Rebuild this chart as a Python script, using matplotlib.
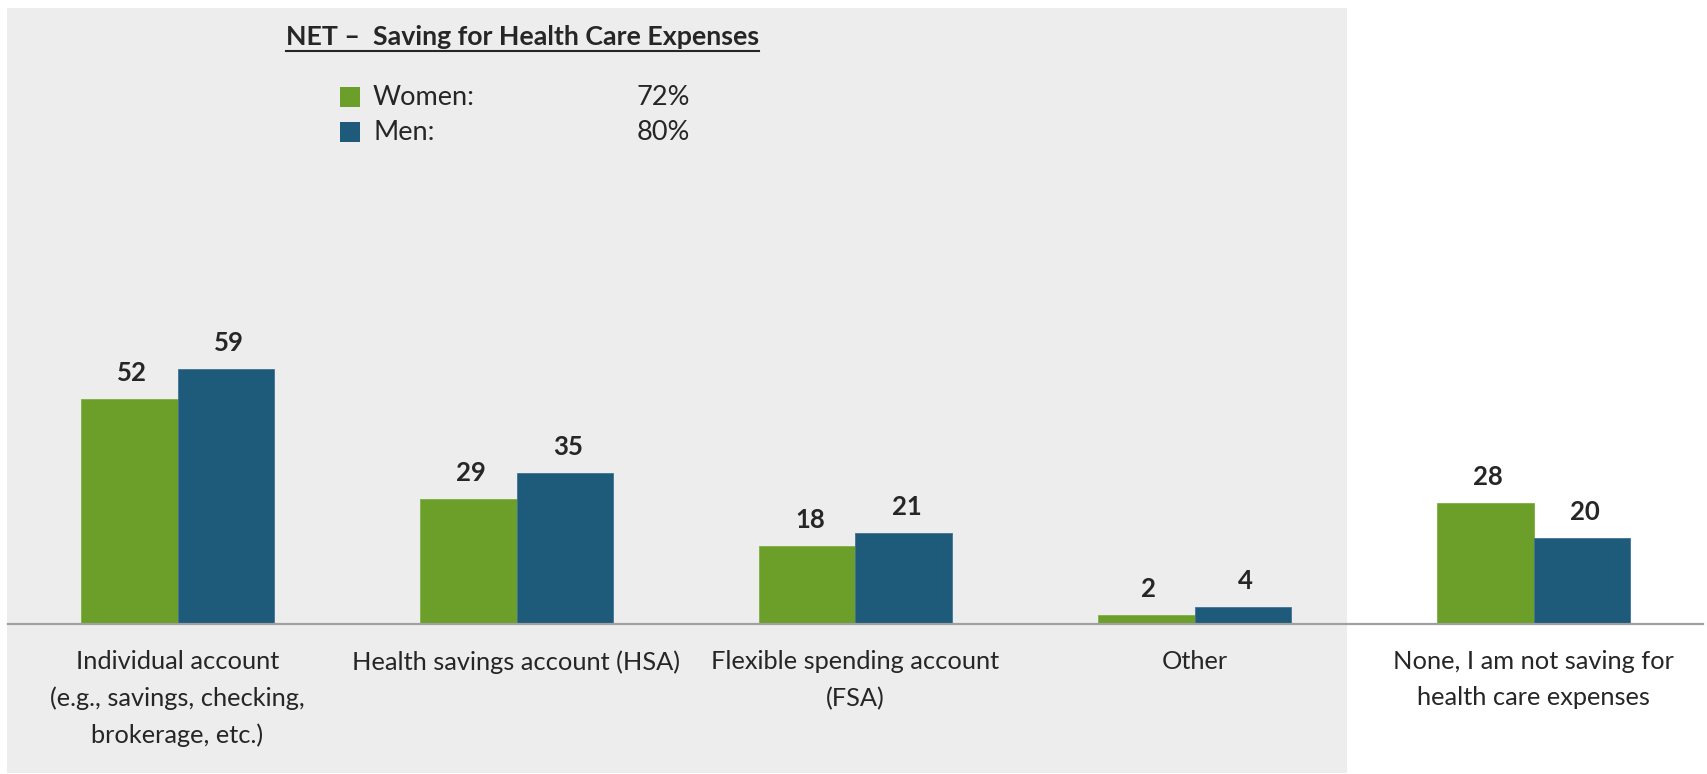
import matplotlib
matplotlib.use("Agg")
import matplotlib.pyplot as plt
from matplotlib.patches import Rectangle
from matplotlib.lines import Line2D
import numpy as np

# ---- data ----
categories = [
    "Individual account\n(e.g., savings, checking,\nbrokerage, etc.)",
    "Health savings account (HSA)",
    "Flexible spending account\n(FSA)",
    "Other",
    "None, I am not saving for\nhealth care expenses",
]
women = [52, 29, 18, 2, 28]
men = [59, 35, 21, 4, 20]
series_names = ["Women:", "Men:"]
net_values = ["72%", "80%"]
title = "NET \u2013  Saving for Health Care Expenses"

GREEN = "#6B9F29"
BLUE = "#1E5A7A"
GRAY_BG = "#EDEDED"
TEXT = "#262626"
FONT = ["Lato", "DejaVu Sans"]

W, H = 1707, 774
fig = plt.figure(figsize=(W / 100, H / 100), dpi=100)
fig.patch.set_facecolor("white")

def fx(px):
    return px / W

def fy(py):
    return 1 - py / H

# gray panel behind first four categories
fig.add_artist(Rectangle((fx(7), fy(773)), fx(1347) - fx(7), fy(8) - fy(773),
                         transform=fig.transFigure, facecolor=GRAY_BG,
                         edgecolor="none", zorder=0))

ax = fig.add_axes([fx(8), fy(624), fx(1703) - fx(8), fy(8) - fy(624)])
ax.set_facecolor("none")
ax.set_zorder(1)

x = np.arange(len(categories))
bw = 0.286
b1 = ax.bar(x - bw / 2, women, bw, color=GREEN, edgecolor="#7FAF45", linewidth=0.6)
b2 = ax.bar(x + bw / 2, men, bw, color=BLUE, edgecolor="#3F7494", linewidth=0.6)

for bars, vals in ((b1, women), (b2, men)):
    for rect, v in zip(bars, vals):
        ax.annotate(str(v), (rect.get_x() + rect.get_width() / 2, v),
                    xytext=(2, 10), textcoords="offset points",
                    ha="center", va="bottom", fontsize=18.5, fontweight="bold",
                    color=TEXT, family=FONT)

ax.set_xlim(-0.5, 4.5)
ax.set_ylim(0, 142.6)
for s in ("top", "right", "left"):
    ax.spines[s].set_visible(False)
ax.spines["bottom"].set_color("#A0A0A0")
ax.spines["bottom"].set_linewidth(1.6)
ax.set_yticks([])
ax.set_xticks(x)
ax.set_xticklabels(categories, fontsize=18.3, color=TEXT, family=FONT, linespacing=1.68)
ax.tick_params(axis="x", length=0, pad=19)

# title with underline
t = fig.text(fx(286), fy(45), title, fontsize=19.3, fontweight="bold",
             color=TEXT, family=FONT, ha="left", va="baseline")
fig.canvas.draw()
bb = t.get_window_extent()
fig.add_artist(Line2D([bb.x0 / W, bb.x1 / W], [fy(51), fy(51)],
                      transform=fig.transFigure, color=TEXT, linewidth=1.5))

# legend block
for i, (name, val, col) in enumerate(zip(series_names, net_values, (GREEN, BLUE))):
    top = 87 + 35 * i
    fig.add_artist(Rectangle((fx(340), fy(top + 20)), fx(360) - fx(340), fy(top) - fy(top + 20),
                             transform=fig.transFigure, facecolor=col, edgecolor="none"))
    fig.text(fx(373), fy(top + 18), name, fontsize=19.5, color=TEXT, family=FONT,
             ha="left", va="baseline")
    fig.text(fx(637), fy(top + 18), val, fontsize=19.5, color=TEXT, family=FONT,
             ha="left", va="baseline")

fig.savefig("out.png", dpi=100, facecolor="white")
